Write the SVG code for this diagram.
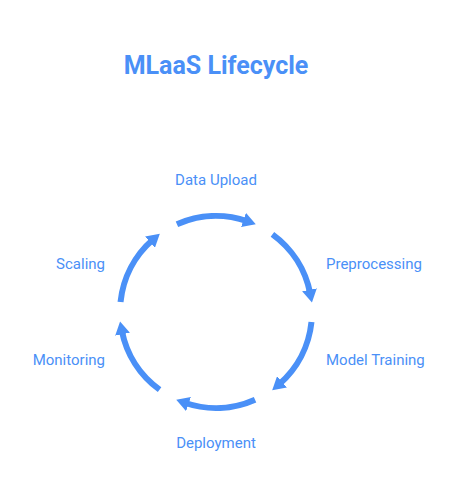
<svg xmlns="http://www.w3.org/2000/svg" width="456" height="504" viewBox="0 0 456 504">
<style>
.title{font-family:Roboto,"Liberation Sans",sans-serif;font-weight:bold;font-size:25px;fill:#4a90f7}
.lbl{font-family:Roboto,"Liberation Sans",sans-serif;font-size:15px;fill:#4a90f7}
.arc{fill:none;stroke:#4a90f7;stroke-width:6}
</style>
<defs>
<marker id="ah" markerUnits="userSpaceOnUse" markerWidth="13" markerHeight="15" refX="4" refY="7.5" orient="auto">
<path d="M0,0 L13,7.5 L0,15 z" fill="#4a90f7"/>
</marker>
</defs>
<rect width="456" height="504" fill="#ffffff"/>
<text class="title" x="216" y="74" text-anchor="middle">MLaaS Lifecycle</text>
<g id="connectors">
<path class="arc" marker-end="url(#ah)" d="M176.95,224.3 A96,96 0 0 1 247.26,221.23"/>
<path class="arc" marker-end="url(#ah)" d="M272.43,234.34 A96,96 0 0 1 310.24,293.68"/>
<path class="arc" marker-end="url(#ah)" d="M311.48,322.03 A96,96 0 0 1 278.98,384.45"/>
<path class="arc" marker-end="url(#ah)" d="M255.05,399.7 A96,96 0 0 1 184.74,402.77"/>
<path class="arc" marker-end="url(#ah)" d="M159.57,389.66 A96,96 0 0 1 121.77,330.32"/>
<path class="arc" marker-end="url(#ah)" d="M120.53,301.97 A96,96 0 0 1 153.02,239.55"/>
</g>
<g id="data-upload"><text class="lbl" x="216" y="185" text-anchor="middle">Data Upload</text></g>
<g id="preprocessing"><text class="lbl" x="326" y="269">Preprocessing</text></g>
<g id="model-training"><text class="lbl" x="326" y="365">Model Training</text></g>
<g id="deployment"><text class="lbl" x="216" y="448" text-anchor="middle">Deployment</text></g>
<g id="monitoring"><text class="lbl" x="105" y="365" text-anchor="end">Monitoring</text></g>
<g id="scaling"><text class="lbl" x="105" y="269" text-anchor="end">Scaling</text></g>
</svg>
